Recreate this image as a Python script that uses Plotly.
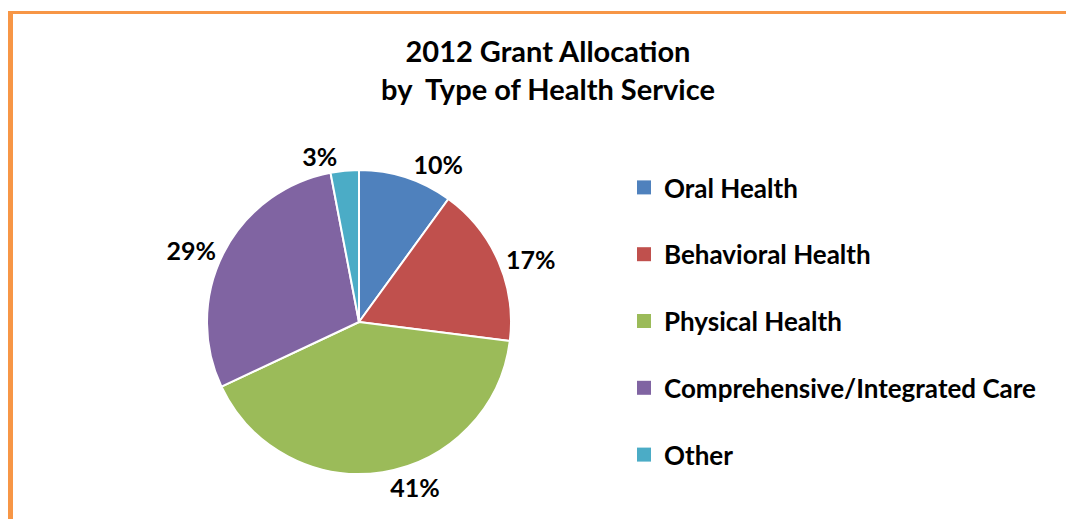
import plotly.graph_objects as go

categories = ["Oral Health", "Behavioral Health", "Physical Health",
              "Comprehensive/Integrated Care", "Other"]
values = [10, 17, 41, 29, 3]
colors = ["#4F81BD", "#C0504D", "#9BBB59", "#8064A2", "#4BACC6"]

# page is shown with an 8px body margin; work in figure pixels
OFF = 8
W, H = 1074 - OFF, 519 - OFF
FONT = "Lato"


def px_x(x):
    return (x - OFF) / W


def px_y(y):
    return 1 - (y - OFF) / H


fig = go.Figure()

cx, cy, r = 359, 322, 152
fig.add_trace(go.Pie(
    labels=categories, values=values, sort=False, direction="clockwise",
    rotation=0, showlegend=False,
    marker=dict(colors=colors, line=dict(color="white", width=2)),
    textinfo="percent", textposition="outside",
    textfont=dict(family=FONT, size=25, color="black", weight="bold"),
    domain=dict(x=[px_x(cx - r), px_x(cx + r)],
                y=[px_y(cy + r), px_y(cy - r)]),
    hoverinfo="label+percent",
))

for cat, col in zip(categories, colors):
    fig.add_trace(go.Scatter(
        x=[None], y=[None], mode="markers", name=cat, legendgroup=cat,
        marker=dict(symbol="square", size=14, color=col),
    ))

fig.update_layout(
    width=W, height=H,
    margin=dict(l=0, r=0, t=0, b=0),
    paper_bgcolor="white", plot_bgcolor="white",
    xaxis=dict(visible=False), yaxis=dict(visible=False),
    title=dict(text="2012 Grant Allocation<br>by  Type of Health Service",
               x=px_x(548), xanchor="center", y=px_y(62), yanchor="top",
               font=dict(family=FONT, size=29, color="black", weight="bold")),
    legend=dict(x=px_x(624), xanchor="left", y=px_y(164), yanchor="top",
                font=dict(family=FONT, size=26, color="black", weight="bold"),
                tracegroupgap=30, bgcolor="rgba(0,0,0,0)"),
    shapes=[
        dict(type="rect", xref="paper", yref="paper",
             x0=px_x(8), x1=px_x(13), y0=0, y1=px_y(11),
             fillcolor="#F79646", line=dict(width=0), layer="above"),
        dict(type="rect", xref="paper", yref="paper",
             x0=px_x(8), x1=1, y0=px_y(14), y1=px_y(11),
             fillcolor="#F79646", line=dict(width=0), layer="above"),
    ],
)

fig.write_html("out.html")
